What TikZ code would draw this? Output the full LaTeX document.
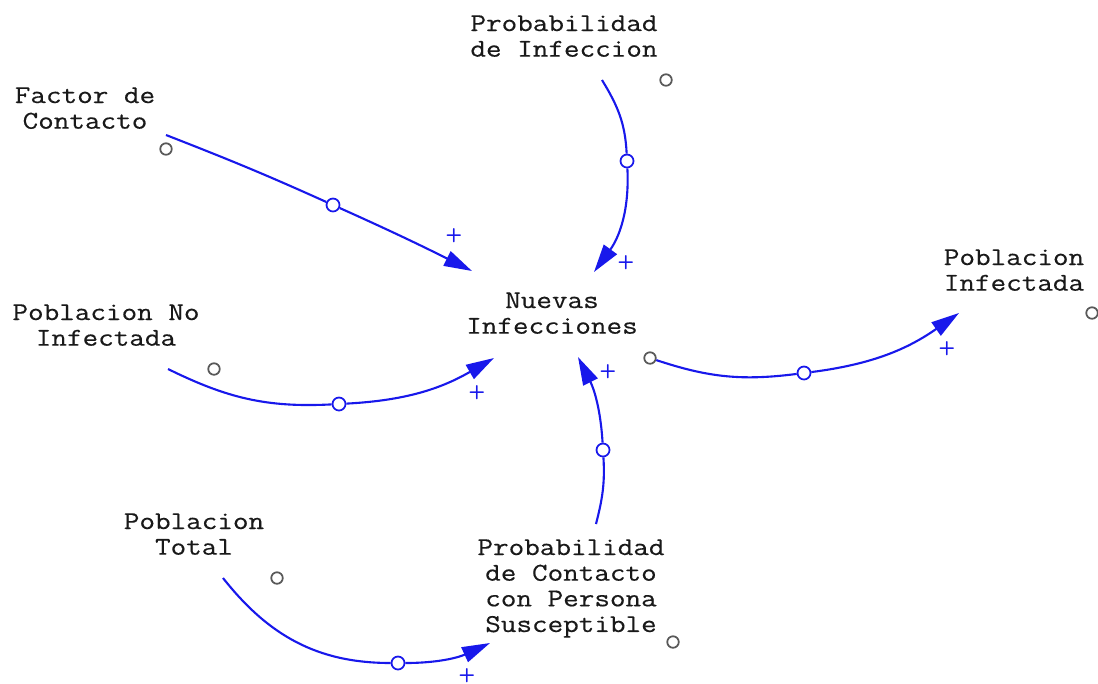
\documentclass[tikz,border=0pt]{standalone}
\usepackage{fontspec}
\setmonofont{Latin Modern Mono}[FakeStretch=1.18, FakeBold=0.4]
\usepackage{tikz}
\usetikzlibrary{arrows.meta, calc}
\definecolor{linkblue}{RGB}{24,24,235}

\begin{document}
\begin{tikzpicture}[x=0.02cm, y=-0.02cm,
    var/.style={anchor=north, align=center, inner sep=0pt, text=black!90, font=\ttfamily\fontsize{14.6}{14.6}\selectfont},
    dot/.style={circle, draw=black!65, line width=1pt, minimum size=0.23cm, inner sep=0pt},
    handle/.style={circle, draw=linkblue, fill=white, line width=1pt, minimum size=0.26cm, inner sep=0pt},
    link/.style={draw=linkblue, line width=1.2pt, -{Triangle[length=0.56cm, width=0.32cm]}},
    sign/.style={text=linkblue, font=\sffamily\bfseries\fontsize{11}{11}\selectfont, inner sep=0pt}]
\useasboundingbox (0,0) rectangle (1098,683);
\node[var] (contact) at (85,87) {Factor de\\Contacto};
\node[var] (probinf) at (564,15) {Probabilidad\\de Infeccion};
\node[var] (newinf) at (552,292) {Nuevas\\Infecciones};
\node[var] (infected) at (1014,249) {Poblacion\\Infectada};
\node[var] (uninfected) at (106,304) {Poblacion No\\Infectada};
\node[var] (total) at (194,513) {Poblacion\\Total};
\node[var] (probcontact) at (571,539) {Probabilidad\\de Contacto\\con Persona\\Susceptible};
\node[dot] (contact-o) at (166,149) {};
\node[dot] (probinf-o) at (666,80) {};
\node[dot] (newinf-o) at (650,358) {};
\node[dot] (infected-o) at (1092,313) {};
\node[dot] (uninfected-o) at (214,369) {};
\node[dot] (total-o) at (277,578) {};
\node[dot] (probcontact-o) at (673,642) {};
\node[handle] (h1) at (333,205) {};
\node[handle] (h2) at (627,161) {};
\node[handle] (h3) at (339,404) {};
\node[handle] (h4) at (603,450) {};
\node[handle] (h5) at (804,373) {};
\node[handle] (h6) at (398,663) {};
\draw[link] ($(contact.north)+(81,48)$) to[out=-21.3, in=155.8] (h1) to[out=-24.2, in=153.4] ($(newinf.north)+(-80,-21)$);
\draw[link] ($(probinf.north)+(38,65)$) to[out=-58.6, in=92.9] (h2) to[out=-87.1, in=54] ($(newinf.north)+(42,-20)$);
\draw[link] ($(uninfected.north)+(62,65)$) to[out=-26.2, in=183] (h3) to[out=3, in=210] ($(newinf.north)+(-58,66)$);
\draw[link] ($(probcontact.north)+(25,-15)$) to[out=75.7, in=273.5] (h4) to[out=93.5, in=296.6] ($(newinf.north)+(26,65)$);
\draw[link] (newinf-o) to[out=-18.4, in=187.3] (h5) to[out=7.3, in=215] ($(infected.north)+(-55,64)$);
\draw[link] ($(total.north)+(29,65)$) to[out=-51.7, in=180] (h6) to[out=0, in=204.7] ($(probcontact.north)+(-81,104)$);
\node[sign] (s1) at (454,236) {+};
\node[sign] (s2) at (626,263) {+};
\node[sign] (s3) at (477,393) {+};
\node[sign] (s4) at (608,372) {+};
\node[sign] (s5) at (947,349) {+};
\node[sign] (s6) at (467,676) {+};
\end{tikzpicture}
\end{document}
